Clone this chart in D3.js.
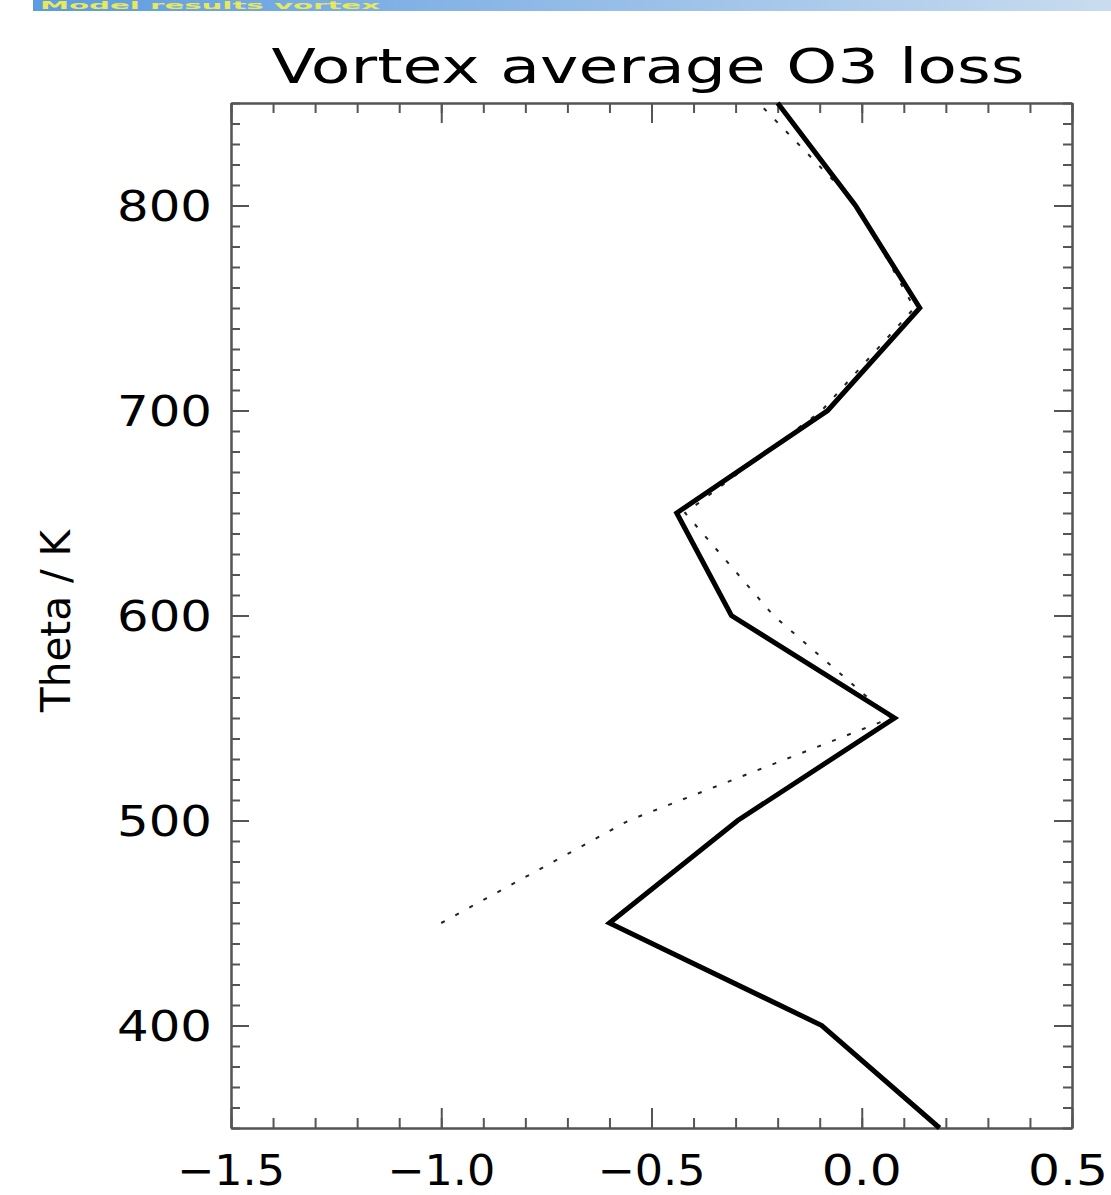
<html>
<head>
  <meta charset="utf-8">
  <title>Vortex average O3 loss</title>
  <style>
    body{
      margin: 0;
      background: white;
    }
    text{
      font-family: "DejaVu Sans", sans-serif;
      fill: black;
    }
  </style>
  <script src="https://d3js.org/d3.v7.min.js"></script>
</head>
<body>
  <div id="container"></div>
  <script>
    //*******DATA*******
    // solid profile
    const thetaSolid = [350, 400, 450, 500, 550, 600, 650, 700, 750, 800, 850];
    const lossSolid = [0.185, -0.095, -0.60, -0.295, 0.078, -0.31, -0.44, -0.081, 0.138, -0.015, -0.20];
    // dotted profile
    const thetaDotted = [450, 500, 550, 600, 650, 700, 750, 800, 850];
    const lossDotted = [-1.0, -0.554, 0.07, -0.21, -0.42, -0.095, 0.125, -0.01, -0.245];
    // ticks
    const xMajor = [-1.5, -1.0, -0.5, 0.0, 0.5];
    const xLabels = ["\u22121.5", "\u22121.0", "\u22120.5", "0.0", "0.5"];
    const yMajor = [400, 500, 600, 700, 800];
    const yLabels = ["400", "500", "600", "700", "800"];

    //*******CONSTANTS*******
    const width = 1111,
          height = 1195,
          plot = {left: 231, right: 1072, top: 103, bottom: 1128};

    var svg = d3.select("#container")
      .append("svg")
      .attr("width", width)
      .attr("height", height)
      .style("display", "block");

    // banner strip at the very top (cut off in the original)
    var grad = svg.append("defs").append("linearGradient")
      .attr("id", "banner")
      .attr("x1", "0%").attr("x2", "100%");
    grad.append("stop").attr("offset", "0%").attr("stop-color", "#5b9be0");
    grad.append("stop").attr("offset", "45%").attr("stop-color", "#8db8e6");
    grad.append("stop").attr("offset", "100%").attr("stop-color", "#c9dcef");
    svg.append("rect")
      .attr("x", 33).attr("y", 0)
      .attr("width", width - 33).attr("height", 11)
      .attr("fill", "url(#banner)");
    svg.append("text")
      .attr("x", 40).attr("y", 9)
      .attr("font-size", 10)
      .attr("font-weight", "bold")
      .style("fill", "#e8e85a")
      .attr("textLength", 340)
      .attr("lengthAdjust", "spacingAndGlyphs")
      .text("Model results vortex");

    //*******SCALES*******
    var x = d3.scaleLinear().domain([-1.5, 0.5]).range([plot.left, plot.right]);
    var y = d3.scaleLinear().domain([350, 850]).range([plot.bottom, plot.top]);

    var xMinor = d3.range(-15, 6).map(function(d){ return d / 10; });
    var yMinor = d3.range(350, 851, 10);

    //*******AXES*******
    function styleAxis(g){
      g.select(".domain").attr("stroke", "#555").attr("stroke-width", 2);
      g.selectAll(".tick line").attr("stroke", "#555").attr("stroke-width", 2);
      g.selectAll(".tick text").remove();
    }

    // bottom
    svg.append("g").attr("transform", "translate(0," + plot.bottom + ")")
      .call(d3.axisTop(x).tickValues(xMinor).tickSize(10).tickSizeOuter(0)).call(styleAxis);
    svg.append("g").attr("transform", "translate(0," + plot.bottom + ")")
      .call(d3.axisTop(x).tickValues(xMajor).tickSize(20).tickSizeOuter(0)).call(styleAxis);
    // top
    svg.append("g").attr("transform", "translate(0," + plot.top + ")")
      .call(d3.axisBottom(x).tickValues(xMinor).tickSize(10).tickSizeOuter(0)).call(styleAxis);
    svg.append("g").attr("transform", "translate(0," + plot.top + ")")
      .call(d3.axisBottom(x).tickValues(xMajor).tickSize(20).tickSizeOuter(0)).call(styleAxis);
    // left
    svg.append("g").attr("transform", "translate(" + plot.left + ",0)")
      .call(d3.axisRight(y).tickValues(yMinor).tickSize(9).tickSizeOuter(0)).call(styleAxis);
    svg.append("g").attr("transform", "translate(" + plot.left + ",0)")
      .call(d3.axisRight(y).tickValues(yMajor).tickSize(18).tickSizeOuter(0)).call(styleAxis);
    // right
    svg.append("g").attr("transform", "translate(" + plot.right + ",0)")
      .call(d3.axisLeft(y).tickValues(yMinor).tickSize(9).tickSizeOuter(0)).call(styleAxis);
    svg.append("g").attr("transform", "translate(" + plot.right + ",0)")
      .call(d3.axisLeft(y).tickValues(yMajor).tickSize(18).tickSizeOuter(0)).call(styleAxis);

    // tick labels
    svg.selectAll(".xlab")
      .data(xMajor)
      .enter()
      .append("text")
      .attr("class", "xlab")
      .attr("x", function(d, i){ return i === xMajor.length - 1 ? x(d) - 4 : x(d); })
      .attr("y", plot.bottom + 57)
      .attr("text-anchor", "middle")
      .attr("font-size", 42)
      .attr("textLength", function(d, i){ return xLabels[i].length === 4 ? 108 : 80; })
      .attr("lengthAdjust", "spacingAndGlyphs")
      .text(function(d, i){ return xLabels[i]; });

    svg.selectAll(".ylab")
      .data(yMajor)
      .enter()
      .append("text")
      .attr("class", "ylab")
      .attr("x", plot.left - 19)
      .attr("y", function(d){ return y(d); })
      .attr("dy", "0.36em")
      .attr("text-anchor", "end")
      .attr("font-size", 42)
      .attr("textLength", 95)
      .attr("lengthAdjust", "spacingAndGlyphs")
      .text(function(d, i){ return yLabels[i]; });

    // title
    svg.append("text")
      .attr("x", 648)
      .attr("y", 83)
      .attr("text-anchor", "middle")
      .attr("font-size", 48)
      .attr("textLength", 753)
      .attr("lengthAdjust", "spacingAndGlyphs")
      .text("Vortex average O3 loss");

    // y title
    svg.append("text")
      .attr("transform", "translate(70,621) rotate(-90)")
      .attr("text-anchor", "middle")
      .attr("font-size", 40)
      .attr("textLength", 182)
      .attr("lengthAdjust", "spacingAndGlyphs")
      .text("Theta / K");

    //*******LINES*******
    var line = d3.line()
      .x(function(d){ return x(d[0]); })
      .y(function(d){ return y(d[1]); });

    svg.append("path")
      .datum(d3.zip(lossDotted, thetaDotted))
      .attr("d", line)
      .attr("fill", "none")
      .attr("stroke", "#222")
      .attr("stroke-width", 2)
      .attr("stroke-dasharray", "4,12");

    svg.append("path")
      .datum(d3.zip(lossSolid, thetaSolid))
      .attr("d", line)
      .attr("fill", "none")
      .attr("stroke", "black")
      .attr("stroke-width", 5)
      .attr("stroke-linejoin", "miter");
  </script>
</body>
</html>
